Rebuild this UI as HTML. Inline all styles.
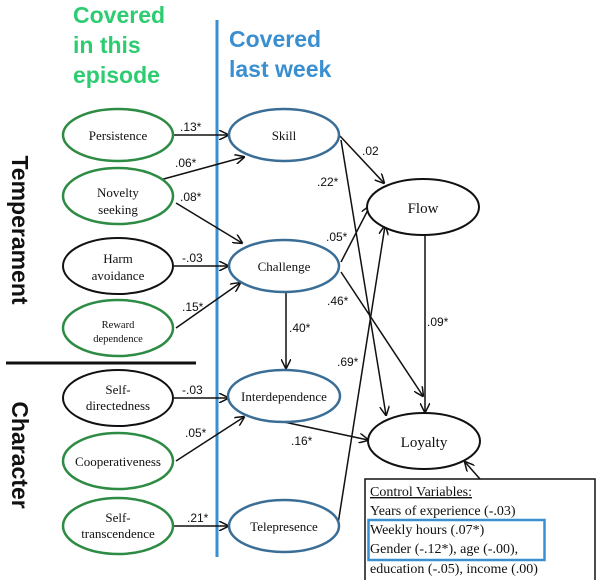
<!DOCTYPE html>
<html><head><style>body{margin:0;background:#fff}svg{display:block}</style></head><body>
<svg width="600" height="580" viewBox="0 0 600 580" xmlns="http://www.w3.org/2000/svg">
<defs><marker id="a" markerWidth="10" markerHeight="10" refX="9" refY="5" orient="auto" markerUnits="userSpaceOnUse"><path d="M0,0 L10,5 L0,10" fill="none" stroke="#111" stroke-width="1.5"/></marker></defs>
<g font-family="Liberation Sans, sans-serif" font-weight="bold" font-size="23">
<text x="73" y="23" fill="#2ecc71">Covered</text><text x="73" y="53" fill="#2ecc71">in this</text><text x="73" y="83" fill="#2ecc71">episode</text>
<text x="229" y="47" fill="#3a8fd0">Covered</text><text x="229" y="77" fill="#3a8fd0">last week</text>
</g>
<g font-family="Liberation Sans, sans-serif" font-size="23" font-weight="bold" fill="#111">
<text transform="translate(12,230) rotate(90)" text-anchor="middle">Temperament</text>
<text transform="translate(12,455) rotate(90)" text-anchor="middle">Character</text>
</g>
<line x1="217" y1="20" x2="217" y2="557" stroke="#3a8fd0" stroke-width="3"/>
<line x1="6" y1="363" x2="196" y2="363" stroke="#111" stroke-width="3"/>
<g stroke="#111" stroke-width="1.5" fill="none" marker-end="url(#a)">
<line x1="174" y1="135" x2="228" y2="135"/>
<line x1="160" y1="180" x2="244" y2="157"/>
<line x1="176" y1="203" x2="242" y2="243"/>
<line x1="174" y1="266" x2="228" y2="266"/>
<line x1="176" y1="328" x2="240" y2="283"/>
<line x1="174" y1="398" x2="228" y2="398"/>
<line x1="176" y1="461" x2="244" y2="417"/>
<line x1="174" y1="526" x2="228" y2="526"/>
<line x1="340" y1="136" x2="384" y2="183"/>
<line x1="341" y1="140" x2="386" y2="415"/>
<line x1="341" y1="262" x2="370" y2="206"/>
<line x1="341" y1="272" x2="423" y2="396"/>
<line x1="338" y1="524" x2="385" y2="226"/>
<line x1="425" y1="234" x2="425" y2="412"/>
<line x1="284" y1="422" x2="368" y2="440"/>
<line x1="286" y1="292" x2="286" y2="368"/>
<line x1="480" y1="479" x2="465" y2="462"/>
</g>
<g stroke-width="2.5" fill="#fff">
<ellipse cx="118" cy="135" rx="55" ry="26" stroke="#2e8b44"/>
<ellipse cx="118" cy="196" rx="55" ry="28" stroke="#2e8b44"/>
<ellipse cx="118" cy="266" rx="55" ry="28" stroke="#111" stroke-width="2"/>
<ellipse cx="118" cy="328" rx="55" ry="28" stroke="#2e8b44"/>
<ellipse cx="118" cy="398" rx="55" ry="28" stroke="#111" stroke-width="2"/>
<ellipse cx="118" cy="461" rx="55" ry="28" stroke="#2e8b44"/>
<ellipse cx="118" cy="526" rx="55" ry="28" stroke="#2e8b44"/>
<ellipse cx="284" cy="135" rx="55" ry="26" stroke="#3a6e96"/>
<ellipse cx="284" cy="266" rx="55" ry="26" stroke="#3a6e96"/>
<ellipse cx="284" cy="396" rx="56" ry="26" stroke="#3a6e96"/>
<ellipse cx="284" cy="526" rx="55" ry="26" stroke="#3a6e96"/>
<ellipse cx="423" cy="207" rx="56" ry="28" stroke="#111" stroke-width="2"/>
<ellipse cx="424" cy="441" rx="56" ry="28" stroke="#111" stroke-width="2"/>
</g>
<g font-family="Liberation Serif, serif" font-size="13" fill="#111" text-anchor="middle">
<text x="118" y="140">Persistence</text>
<text x="118" y="197">Novelty</text><text x="118" y="214">seeking</text>
<text x="118" y="263">Harm</text><text x="118" y="280">avoidance</text>
<text x="118" y="328" font-size="10.5">Reward</text><text x="118" y="342" font-size="10.5">dependence</text>
<text x="118" y="394">Self-</text><text x="118" y="410">directedness</text>
<text x="118" y="466">Cooperativeness</text>
<text x="118" y="522">Self-</text><text x="118" y="538">transcendence</text>
<text x="284" y="140">Skill</text>
<text x="284" y="271">Challenge</text>
<text x="284" y="401">Interdependence</text>
<text x="284" y="531">Telepresence</text>
<text x="423" y="213" font-size="15">Flow</text>
<text x="424" y="447" font-size="15">Loyalty</text>
</g>
<g font-family="Liberation Sans, sans-serif" font-size="12" fill="#111">
<text x="180" y="131">.13*</text><text x="175" y="167">.06*</text><text x="180" y="201">.08*</text>
<text x="182" y="262">-.03</text><text x="182" y="311">.15*</text><text x="182" y="394">-.03</text>
<text x="185" y="437">.05*</text><text x="187" y="522">.21*</text>
<text x="362" y="155">.02</text><text x="317" y="186">.22*</text><text x="326" y="241">.05*</text>
<text x="327" y="305">.46*</text><text x="289" y="332">.40*</text><text x="337" y="366">.69*</text>
<text x="427" y="326">.09*</text><text x="291" y="445">.16*</text>
</g>
<rect x="365" y="479" width="230" height="102" fill="#fff" stroke="#111" stroke-width="1.5"/>
<rect x="368.5" y="520" width="176" height="40" fill="none" stroke="#3a8fd0" stroke-width="2.5"/>
<g font-family="Liberation Serif, serif" font-size="14" fill="#111">
<text x="370" y="496" text-decoration="underline">Control Variables:</text>
<text x="370" y="515">Years of experience (-.03)</text>
<text x="370" y="534">Weekly hours (.07*)</text>
<text x="370" y="553">Gender (-.12*), age (-.00),</text>
<text x="370" y="573">education (-.05), income (.00)</text>
</g>
</svg>
</body></html>
